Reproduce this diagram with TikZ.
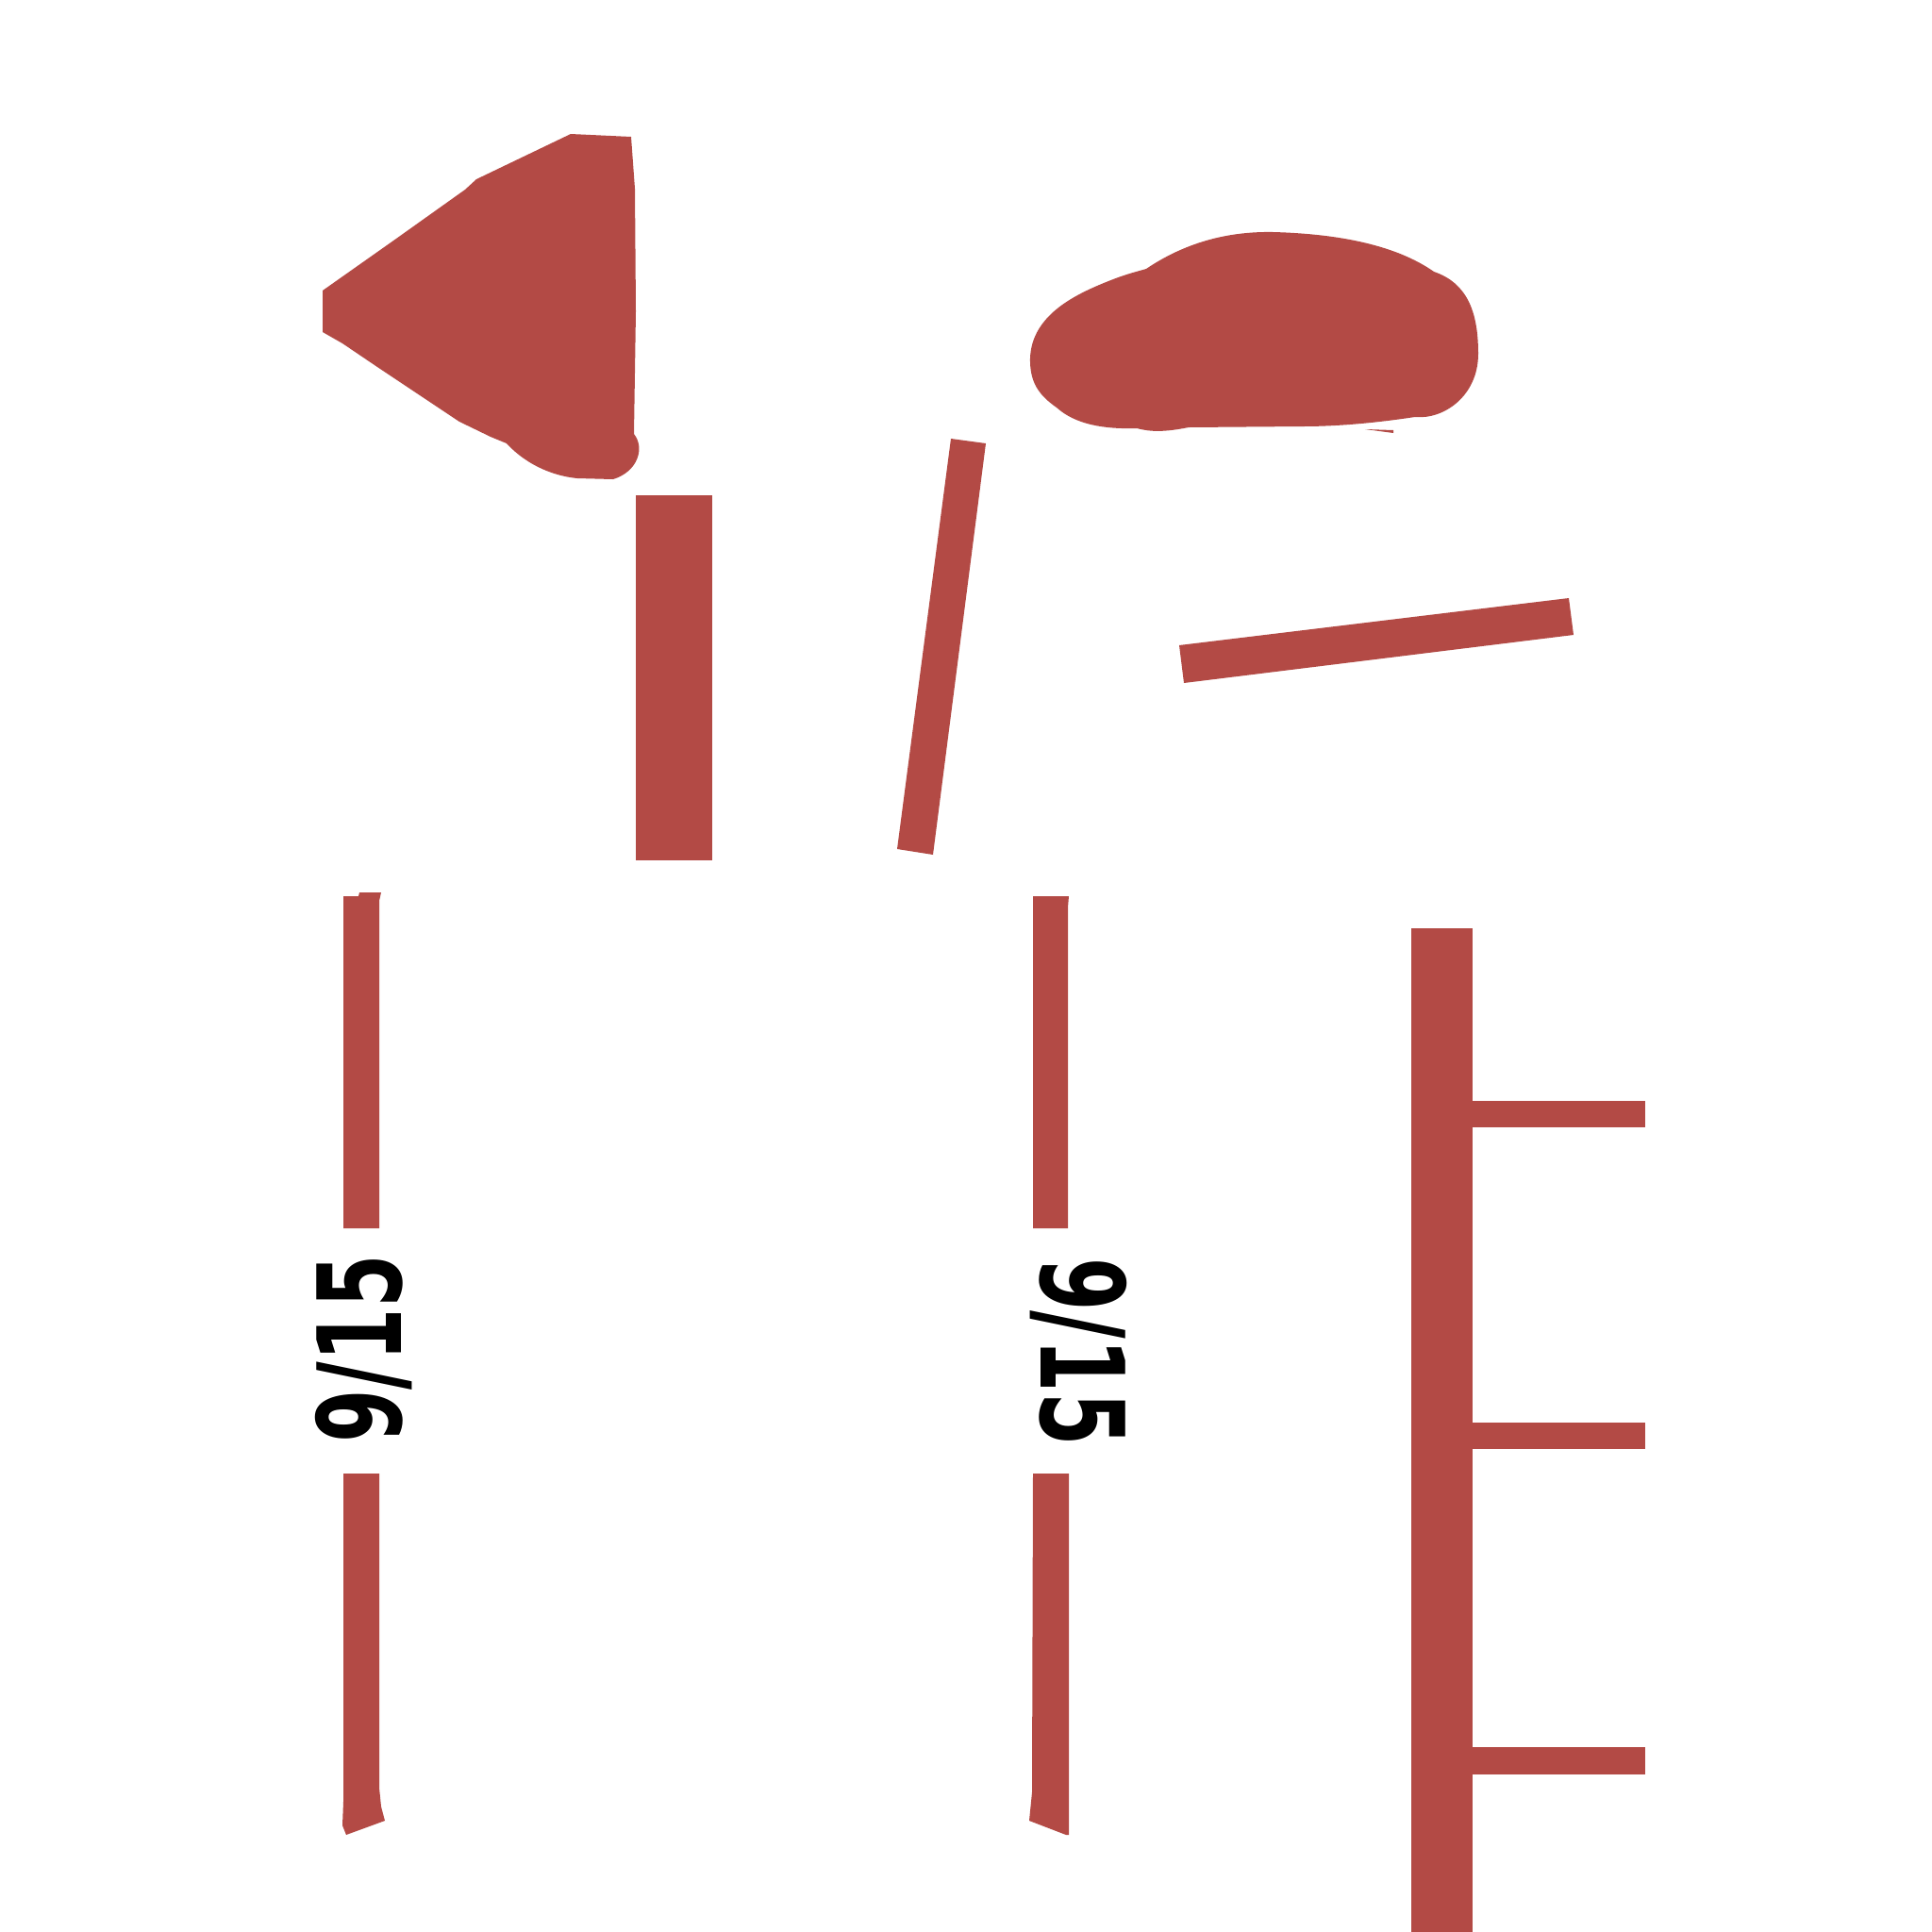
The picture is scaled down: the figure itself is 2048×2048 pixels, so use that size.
\documentclass[tikz,border=0pt]{standalone}
\usepackage{fontspec}
\setmainfont{DejaVu Sans}
\definecolor{brick}{RGB}{179,74,69}
\begin{document}
\begin{tikzpicture}[x=0.01cm,y=-0.01cm,
  part/.style={fill=brick,draw=none},
  stencil/.style={inner sep=0pt,text=black,font=\fontsize{35}{35}\selectfont\bfseries}]
\useasboundingbox (0,0) rectangle (2048,2048);
\fill[white] (0,0) rectangle (2048,2048);
% triangular blob
\path[part] (342,308) -- (420,253) -- (493,201) -- (505,190) -- (605,142) -- (669,145)
  -- (673,200) -- (674,330) -- (672,460)
  .. controls (684,475) and (676,500) .. (650,508)
  -- (612,507) .. controls (590,505) and (560,495) .. (537,470)
  -- (520,463) -- (487,447) -- (397,387) -- (363,364) -- (342,352) -- cycle;
% oval blob
\path[part] (1092,385)
  .. controls (1090,335) and (1140,312) .. (1175,298)
  .. controls (1195,290) and (1205,288) .. (1215,285)
  .. controls (1255,258) and (1300,245) .. (1350,246)
  .. controls (1420,248) and (1480,260) .. (1520,288)
  .. controls (1555,300) and (1567,330) .. (1567,375)
  .. controls (1567,420) and (1530,445) .. (1500,442)
  .. controls (1460,448) and (1420,452) .. (1380,452)
  -- (1260,453)
  .. controls (1235,458) and (1220,458) .. (1205,454)
  .. controls (1170,455) and (1140,450) .. (1120,432)
  .. controls (1100,418) and (1093,405) .. (1092,385) -- cycle;
\path[part] (1447,455) -- (1477,456) -- (1477,459) -- cycle;
% vertical post
\path[part] (674,525) rectangle (755,912);
% slanted post
\path[part] (1008,465) -- (1045,470) -- (989,906) -- (951,900) -- cycle;
% slanted bar on the right
\path[part] (1250,684) -- (1663,634) -- (1668,673) -- (1255,724) -- cycle;
% left dimension line
\path[part] (364,950) -- (380,950) -- (381,946) -- (404,946) -- (402,955) -- (402,1302) -- (364,1302) -- cycle;
\path[part] (364,1562) -- (402,1562) -- (402,1895) -- (404,1915) -- (408,1930) -- (367,1945) -- (363,1935) -- (364,1910) -- cycle;
\node[stencil,rotate=90] (labL) at (386,1430) {\scalebox{0.66}[1]{9/15}};
% middle dimension line
\path[part] (1095,950) -- (1133,950) -- (1132,962) -- (1132,1302) -- (1095,1302) -- cycle;
\path[part] (1095,1562) -- (1133,1562) -- (1133,1945) -- (1130,1945) -- (1091,1930) -- (1094,1900) -- cycle;
\node[stencil,rotate=-90] (labR) at (1143,1433) {\scalebox{0.66}[1]{9/15}};
% ladder on the right
\path[part] (1496,984) rectangle (1561,2048);
\path[part] (1561,1167) rectangle (1744,1195);
\path[part] (1561,1508) rectangle (1744,1536);
\path[part] (1561,1852) rectangle (1744,1881);
\end{tikzpicture}
\end{document}
